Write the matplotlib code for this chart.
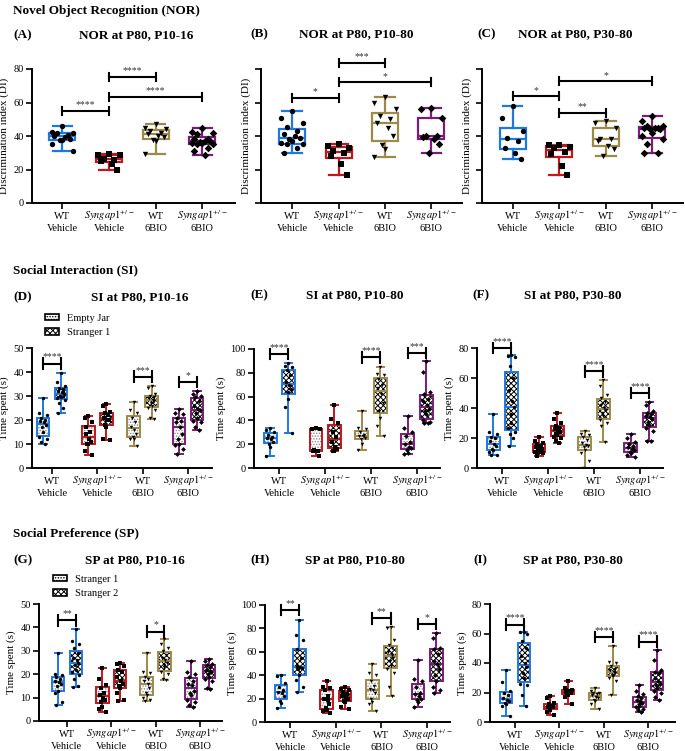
import matplotlib
matplotlib.use("Agg")
import matplotlib.pyplot as plt
from matplotlib.patches import Patch, PathPatch

plt.rcParams.update({
    "font.family": "serif",
    "font.serif": ["Liberation Serif", "DejaVu Serif"],
    "mathtext.fontset": "stix",
    "hatch.linewidth": 0.7,
    "axes.linewidth": 1.4,
})

# ── groups / styling ────────────────────────────────────────────────
GROUP_TOP = ["WT", "$Syngap1^{+/-}$", "WT", "$Syngap1^{+/-}$"]
GROUP_BOTTOM = ["Vehicle", "Vehicle", "6BIO", "6BIO"]
COLORS = ["#1f78e0", "#c0161c", "#9c8a4a", "#7b1c78"]
MARKERS = ["o", "s", "v", "D"]

# ── NOR: discrimination index, one list per group ───────────────────
nor_a = [
    [46, 42.5, 42, 41.5, 40.5, 40, 39.5, 38, 37.5, 37.5, 35, 31],
    [29, 28.5, 28.5, 26.5, 25.5, 25, 23, 19.5],
    [47, 45, 44, 43, 42, 41, 40, 39.5, 37.5, 37, 29],
    [44.5, 42.5, 41.5, 41, 38.5, 38, 37, 37, 36.5, 36, 36, 35.5, 35, 33, 31, 28.5],
]
nor_b = [
    [55, 51, 48, 45.5, 43, 41, 40, 39, 38, 37, 36, 35, 35, 33, 30],
    [35, 34, 33, 31, 30, 28, 23, 17],
    [63, 60, 56, 52, 50, 48, 45, 40, 34.5, 32, 27.5],
    [57, 56, 51, 40, 40, 39.5, 38, 35, 30],
]
nor_c = [
    [58, 51, 43, 39, 37, 33, 30, 26],
    [34.5, 34.5, 33.5, 33, 30.5, 29, 22, 17],
    [49, 48, 45, 38, 38, 37, 34, 32, 28],
    [52, 49, 46, 46, 45, 45, 44.5, 44, 44, 42, 40, 38, 35, 30, 30],
]
# (group i, group j, bar height, label)
sig_a = [(0, 1, 55, "****"), (1, 2, 75.5, "****"), (1, 3, 63.5, "****")]
sig_b = [(0, 1, 62.7, "*"), (1, 2, 83.6, "***"), (1, 3, 72, "*")]
sig_c = [(0, 1, 63.7, "*"), (1, 2, 53.7, "**"), (1, 3, 72.6, "*")]

# ── SI: time spent, (empty jar, stranger 1) per group ───────────────
si_d = [
    ([29, 23, 22, 21, 20, 19.5, 19, 18, 17, 15, 13, 12, 11, 10],
     [39.5, 36, 34, 33.5, 33, 32, 31.5, 31, 30, 29.5, 29, 28.5, 27, 25, 23]),
    ([21.5, 21, 19, 17, 15, 14, 12, 11, 10, 10, 7, 5.5],
     [26.5, 26, 23.5, 23, 22, 21, 20, 20, 18, 17, 12, 11.5]),
    ([27.5, 24, 23, 21, 19, 17, 16, 14, 13, 12, 12, 9],
     [34, 33.5, 31, 30, 29.5, 29, 28.5, 28, 27, 26, 25, 24, 21, 20.5]),
    ([24.5, 23, 22.5, 21, 19.5, 19, 17, 14, 12, 10, 9.5, 8, 6],
     [32, 31, 30, 29.5, 28, 26, 24.5, 24, 23, 21, 19.5, 19, 17, 16]),
]
si_e = [
    ([33.5, 32, 30, 28, 26, 25, 24, 22, 20, 18, 10],
     [88, 86, 85, 82, 78, 72, 70, 66, 64, 58, 51, 29]),
    ([33.5, 33, 33, 15, 14.5, 14, 14, 10],
     [53, 41, 38, 30, 26, 22, 18, 16, 14, 14]),
    ([48, 34, 33, 30, 28, 27, 27, 25, 24, 20, 15],
     [85, 79, 78, 75, 70, 67, 62, 55, 48, 42, 35, 27]),
    ([44, 34, 30, 27, 22, 20, 18, 17, 15, 13, 12],
     [90, 81, 64, 62, 58, 56, 53, 50, 48, 45, 40, 39, 38, 38]),
]
si_f = [
    ([36, 24, 23, 21, 20, 18, 16, 15, 13, 12, 11, 9, 8.5],
     [75.5, 75, 74, 68, 60, 52, 45, 41, 36, 30, 27, 24, 23, 20, 15]),
    ([20.5, 18, 16.5, 16, 15, 14, 13.5, 13, 12, 11, 10.5, 10, 8],
     [36.5, 33, 30, 28, 27, 26, 25, 24, 23, 22, 21, 20, 18, 17]),
    ([24.5, 23, 22, 21, 19, 17, 15.5, 15, 14, 12, 10, 5, 0],
     [59, 55, 49, 47, 44, 42, 40, 39, 37, 35, 32, 30, 28, 17.5]),
    ([22.5, 20, 17.5, 16, 15, 14, 13, 12, 11, 10, 9, 7.5],
     [44, 42, 38, 37, 36, 35, 34, 33, 31, 29, 27, 25, 18, 18]),
]
sig_d = [(0, 43.5, "****"), (2, 38, "***"), (3, 35.8, "*")]
sig_e = [(0, 95.8, "****"), (2, 93, "****"), (3, 96.6, "***")]
sig_f = [(0, 80, "****"), (2, 64.4, "****"), (3, 50, "****")]

# ── SP: time spent, (stranger 1, stranger 2) per group ──────────────
sp_g = [
    ([29, 20, 19.5, 19, 18, 17, 16.5, 16, 15, 13, 12, 8, 7],
     [39.5, 34, 33, 31, 29, 27, 26, 25, 24, 22, 21, 19.5, 18, 15, 14.5]),
    ([22.5, 18, 15.5, 14, 12, 11, 10, 9, 8, 6, 5, 4],
     [25, 24.5, 23.5, 22, 21, 19, 17, 16, 15, 14, 12, 9, 8.5]),
    ([29, 21, 20.5, 19, 18, 17, 16, 14, 12, 11, 10, 9, 8.5],
     [35, 33, 31, 30, 28, 27, 26, 25, 24, 23, 21, 20, 18, 17.5]),
    ([25.5, 21, 20, 19, 17, 16, 15.5, 13, 12, 11, 9, 8, 7, 6],
     [26.5, 25.5, 24.5, 24, 23, 22, 21.5, 21, 20, 19, 18, 17, 14, 13.5]),
]
sp_h = [
    ([40, 39, 33, 30, 27, 26, 25, 22, 18, 16, 12],
     [87, 74, 70, 62, 55, 48, 47, 46, 45, 40, 36, 30, 26]),
    ([35, 30, 29, 27, 22, 20, 19, 15, 12, 10, 9, 8],
     [30, 28, 27, 26, 24, 22, 21, 20, 18, 17, 13, 11]),
    ([50, 42, 40, 35, 31, 28, 27, 25, 20, 17, 15, 9],
     [81, 80, 70, 66, 63, 60, 57, 55, 52, 48, 45, 42, 30, 22]),
    ([53, 37, 35, 30, 25, 24, 22, 20, 19, 17, 13],
     [76, 72, 63, 62, 58, 52, 50, 45, 40, 35, 30, 27, 25]),
]
sp_i = [
    ([35, 27, 21, 20, 18, 16, 15, 14, 13, 12, 11, 4],
     [61, 61, 60, 55, 50, 45, 40, 37, 33, 30, 26, 25, 18, 11]),
    ([17.5, 16, 13, 12, 11, 10.5, 10, 10, 9, 8, 7, 5],
     [27.5, 23, 22, 21.5, 21, 20.5, 20, 19.5, 19, 18.5, 17, 12]),
    ([23, 21, 20, 19.5, 19, 18, 17, 16, 15, 14, 12, 9],
     [51.5, 41, 40, 38, 36, 35, 34, 33, 32, 31, 30, 28, 18]),
    ([25, 21, 19, 17.5, 16, 15, 14, 13, 12, 11, 10, 9, 8, 7],
     [49, 42, 35, 34, 33, 30, 28, 26, 25, 23, 21, 20, 17, 15]),
]
sig_g = [(0, 43, "**"), (2, 38.2, "*")]
sig_h = [(0, 95.7, "**"), (2, 88.6, "**"), (3, 83.7, "*")]
sig_i = [(0, 66, "****"), (2, 57.5, "****"), (3, 54.5, "****")]

W, H = 685, 751
fig = plt.figure(figsize=(W / 100, H / 100), dpi=100, facecolor="white")

SPREAD = [0, -1, 1, -0.5, 0.5, -0.75, 0.25, 0.75, -0.25]


def rect(x0, x1, ytop, ybot):
    return [x0 / W, 1 - ybot / H, (x1 - x0) / W, (ybot - ytop) / H]


def ftext(x, y, s, ha="left", size=9.5):
    fig.text(x / W, 1 - y / H, s, ha=ha, va="center", fontsize=size, fontweight="bold")


def style_axes(ax, xlim, ymax, step, ylabel, show_yticks=True):
    ax.set_xlim(*xlim)
    ax.set_ylim(0, ymax)
    ax.set_yticks(range(0, ymax + 1, step))
    ax.set_xticks(range(4))
    ax.set_xticklabels([])
    # two-line group labels, placed by hand so both lines align across groups
    for i in range(4):
        for txt, off in ((GROUP_TOP[i], -11.5), (GROUP_BOTTOM[i], -20.5)):
            ax.annotate(txt, xy=(i, 0), xycoords=("data", "axes fraction"),
                        xytext=(0, off), textcoords="offset points",
                        ha="center", va="baseline", fontsize=7.5, annotation_clip=False)
    ax.spines[["top", "right"]].set_visible(False)
    ax.tick_params(direction="out", length=4, width=1.2, labelsize=7.5, pad=2)
    if not show_yticks:
        ax.tick_params(axis="y", labelleft=False)
    ax.set_ylabel(ylabel, fontsize=8, labelpad=3)


def sig_bar(ax, x1, x2, y, txt, cap):
    ax.plot([x1, x1], [y - cap, y + cap], color="black", lw=1.5, clip_on=False)
    ax.plot([x2, x2], [y - cap, y + cap], color="black", lw=1.5, clip_on=False)
    ax.plot([x1, x2], [y, y], color="black", lw=1.5, clip_on=False)
    ax.annotate(txt, xy=((x1 + x2) / 2, y + cap * 0.4), xytext=(0, 0),
                textcoords="offset points", ha="center", va="bottom",
                fontsize=7, color="#333333", annotation_clip=False)


def box(ax, vals, pos, color, width, capw, lw, hatch=None, hatch_col="black"):
    bp = ax.boxplot([vals], positions=[pos], widths=width, whis=(0, 100),
                    patch_artist=True, showfliers=False, capwidths=capw,
                    boxprops=dict(facecolor="white", edgecolor=hatch_col if hatch else color,
                                  linewidth=0 if hatch else lw, hatch=hatch),
                    whiskerprops=dict(color=color, lw=lw),
                    capprops=dict(color=color, lw=lw),
                    medianprops=dict(color=color, lw=lw))
    if hatch:
        for b in bp["boxes"]:
            ax.add_patch(PathPatch(b.get_path(), fill=False, edgecolor=color, lw=lw, zorder=2.5))


def points(ax, vals, pos, marker, half, size):
    xs = [pos + SPREAD[k % len(SPREAD)] * half for k in range(len(vals))]
    ax.scatter(xs, vals, marker=marker, s=size, color="black", zorder=4, linewidths=0)


def nor_panel(r, xlim, data, sigs, show_yticks):
    ax = fig.add_axes(rect(*r))
    for i, vals in enumerate(data):
        box(ax, vals, i, COLORS[i], 0.56, 0.42, 1.6)
        points(ax, vals, i, MARKERS[i], 0.23, 15)
    for i, j, y, t in sigs:
        sig_bar(ax, i, j, y, t, 2.4)
    style_axes(ax, xlim, 80, 20, "Discrimination index (DI)", show_yticks)
    return ax


PAIR_HATCH = ["......", "xxxxxx"]
PAIR_HCOL = ["#888888", "black"]


def pair_panel(r, xlim, data, sigs, ymax, step):
    ax = fig.add_axes(rect(*r))
    for i, pair in enumerate(data):
        for k, vals in enumerate(pair):
            pos = i + (-0.2 if k == 0 else 0.2)
            box(ax, vals, pos, COLORS[i], 0.28, 0.16, 1.4, PAIR_HATCH[k], PAIR_HCOL[k])
            points(ax, vals, pos, MARKERS[i], 0.08, 6)
    for i, y, t in sigs:
        sig_bar(ax, i - 0.2, i + 0.2, y, t, ymax * 0.045)
    style_axes(ax, xlim, ymax, step, "Time spent (s)")
    return ax


# ── Row 1: NOR ──────────────────────────────────────────────────────
ftext(13, 11, "Novel Object Recognition (NOR)")
ftext(13, 35, "(A)"); ftext(136, 35, "NOR at P80, P10-16", ha="center")
ftext(250, 34, "(B)"); ftext(356, 34, "NOR at P80, P10-80", ha="center")
ftext(477, 34, "(C)"); ftext(575, 34, "NOR at P80, P30-80", ha="center")
nor_panel((32, 235, 69, 203), (-0.65, 3.7), nor_a, sig_a, True)
nor_panel((261, 462, 69, 203), (-0.67, 3.66), nor_b, sig_b, False)
nor_panel((482, 683, 69, 203), (-0.66, 3.66), nor_c, sig_c, False)

# ── Row 2: SI ───────────────────────────────────────────────────────
ftext(13, 270, "Social Interaction (SI)")
ftext(13, 297, "(D)"); ftext(140, 297, "SI at P80, P10-16", ha="center")
ftext(250, 295, "(E)"); ftext(355, 295, "SI at P80, P10-80", ha="center")
ftext(472, 295, "(F)"); ftext(573, 295, "SI at P80, P30-80", ha="center")
ax_d = pair_panel((32, 212, 348, 468), (-0.44, 3.53), si_d, sig_d, 50, 10)
pair_panel((254, 440, 349, 468), (-0.55, 3.5), si_e, sig_e, 100, 20)
pair_panel((477, 663, 348, 468), (-0.55, 3.5), si_f, sig_f, 80, 20)

# ── Row 3: SP ───────────────────────────────────────────────────────
ftext(13, 533, "Social Preference (SP)")
ftext(13, 560, "(G)"); ftext(135, 560, "SP at P80, P10-16", ha="center")
ftext(250, 560, "(H)"); ftext(355, 560, "SP at P80, P10-80", ha="center")
ftext(473, 560, "(I)"); ftext(573, 560, "SP at P80, P30-80", ha="center")
ax_g = pair_panel((39, 222, 604, 721), (-0.63, 3.5), sp_g, sig_g, 50, 10)
pair_panel((265, 450, 605, 722), (-0.55, 3.5), sp_h, sig_h, 100, 20)
pair_panel((490, 675, 604, 722), (-0.56, 3.6), sp_i, sig_i, 80, 20)


# ── legends ─────────────────────────────────────────────────────────
def pair_legend(ax, labels, x, y):
    handles = [Patch(facecolor="white", edgecolor="black", hatch=PAIR_HATCH[0], lw=1.2),
               Patch(facecolor="white", edgecolor="black", hatch=PAIR_HATCH[1], lw=1.2)]
    ax.legend(handles, labels, loc="upper left", bbox_to_anchor=(x / W, 1 - y / H),
              bbox_transform=fig.transFigure, frameon=False, fontsize=7.5,
              handlelength=1.3, handleheight=0.55, handletextpad=0.8,
              labelspacing=0.5, borderpad=0, borderaxespad=0)


pair_legend(ax_d, ["Empty Jar", "Stranger 1"], 45, 314)
pair_legend(ax_g, ["Stranger 1", "Stranger 2"], 53, 575)

fig.savefig("out.png", dpi=100, facecolor="white")
